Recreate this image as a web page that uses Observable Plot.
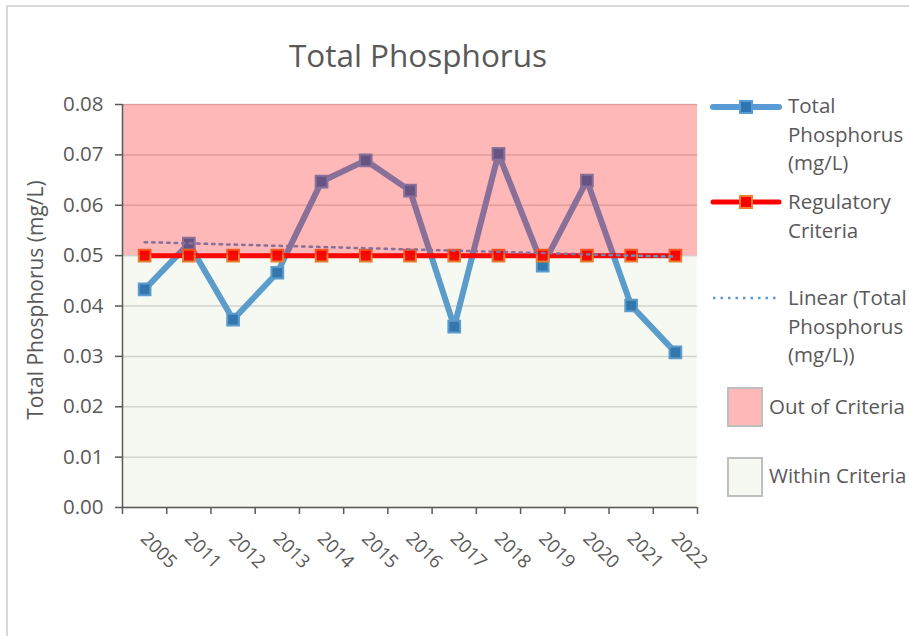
<!DOCTYPE html>
<html>
<head>
<meta charset="utf-8">
<script src="https://cdn.jsdelivr.net/npm/d3@7"></script>
<script src="https://cdn.jsdelivr.net/npm/@observablehq/plot@0.6"></script>
<style>
  html, body { margin: 0; padding: 0; background: #fff; }
  body { width: 909px; height: 636px; overflow: hidden; position: relative; font-family: "Open Sans", "Noto Sans", sans-serif; color: #595959; }
  #border { position: absolute; left: 6px; top: 5px; width: 940px; height: 660px; border: 2px solid #d9d9d9; box-sizing: border-box; }
  #chart { position: absolute; left: 0; top: 0; }
  #title { position: absolute; left: 0; width: 836px; top: 33px; text-align: center; font-size: 31.5px; font-weight: 400; color: #595959; }
  .leg { position: absolute; font-size: 20.5px; line-height: 28.5px; color: #595959; white-space: nowrap; }
  .legsym { position: absolute; }
</style>
</head>
<body>
<div id="border"></div>
<div id="chart"></div>
<div id="title">Total Phosphorus</div>
<div id="legend"></div>
<script>
// ---- data ----
const years = ["2005","2011","2012","2013","2014","2015","2016","2017","2018","2019","2020","2021","2022"];
const phosphorus = [0.0433, 0.0524, 0.0373, 0.0466, 0.0647, 0.0689, 0.0629, 0.0359, 0.0702, 0.0480, 0.0649, 0.0401, 0.0308];
const criteria = [0.05, 0.05, 0.05, 0.05, 0.05, 0.05, 0.05, 0.05, 0.05, 0.05, 0.05, 0.05, 0.05];
const yTicks = [0, 0.01, 0.02, 0.03, 0.04, 0.05, 0.06, 0.07, 0.08];
const zoneNames = ["Out of Criteria", "Within Criteria"];
const zoneLow = [0.05, 0];
const zoneHigh = [0.08, 0.05];
const seriesNames = ["Total Phosphorus (mg/L)", "Regulatory Criteria", "Linear (Total Phosphorus (mg/L))"];
const yTitle = "Total Phosphorus (mg/L)";

// ---- build tables ----
const rows = years.map((year, i) => ({i, year, tp: phosphorus[i], crit: criteria[i]}));
const zones = zoneNames.map((name, k) => ({name, y1: zoneLow[k], y2: zoneHigh[k]}));
const xDomain = [-0.5, years.length - 0.5];
const boundaries = d3.range(0, years.length + 1).map(k => k - 0.5);

const BLUE = "#5B9BD5", BLUE_DARK = "#2E75B6", RED = "#FF0000", ORANGE = "#ED7D31";
const zoneFill = {"Out of Criteria": "#FF0000", "Within Criteria": "#70AD47"};
const zoneOpacity = {"Out of Criteria": 0.28, "Within Criteria": 0.07};
const TEXT = "#595959";

const chart = Plot.plot({
  width: 909,
  height: 636,
  marginTop: 104,
  marginLeft: 122,
  marginRight: 212,
  marginBottom: 129,
  style: {fontFamily: "'Open Sans', 'Noto Sans', sans-serif", color: TEXT, background: "transparent"},
  x: {domain: xDomain, axis: null},
  y: {domain: [0, 0.08], axis: null},
  marks: [
    Plot.gridY(yTicks, {stroke: "#d9d9d9", strokeOpacity: 1, strokeWidth: 1.5}),
    Plot.lineY(rows, {x: "i", y: "tp", stroke: BLUE, strokeWidth: 6, strokeLinejoin: "round"}),
    Plot.dot(rows, {x: "i", y: "tp", symbol: "square", r: 6.6, fill: BLUE_DARK, stroke: BLUE, strokeWidth: 2}),
    Plot.lineY(rows, {x: "i", y: "crit", stroke: RED, strokeWidth: 5}),
    Plot.dot(rows, {x: "i", y: "crit", symbol: "square", r: 6.6, fill: RED, stroke: ORANGE, strokeWidth: 2}),
    Plot.linearRegressionY(rows, {x: "i", y: "tp", stroke: BLUE, strokeWidth: 2.5, strokeDasharray: "2.5,5", ci: 0}),
    Plot.rect(zones, {y1: "y1", y2: "y2", fill: d => zoneFill[d.name], fillOpacity: d => zoneOpacity[d.name]}),
    Plot.ruleX([xDomain[0]], {stroke: TEXT, strokeWidth: 1.5}),
    Plot.ruleY([0], {stroke: TEXT, strokeWidth: 1.5}),
    Plot.axisY(yTicks, {tickFormat: d3.format(".2f"), tickSize: 7, tickPadding: 12, fontSize: 20.5, stroke: TEXT, strokeWidth: 1.5, fill: TEXT, label: null, style: "letter-spacing:1.4px"}),
    Plot.axisX(boundaries, {tickFormat: () => "", tickSize: 7, stroke: TEXT, strokeWidth: 1.5, label: null}),
    Plot.text(rows, {x: "i", text: "year", frameAnchor: "bottom", rotate: 45, textAnchor: "start", dx: -5, dy: 32, fontSize: 18.5, fill: TEXT}),
    Plot.text([yTitle], {frameAnchor: "left", rotate: -90, textAnchor: "middle", dx: -86, dy: -6, fontSize: 21, fill: TEXT, style: "letter-spacing:1.5px"})
  ]
});
document.getElementById("chart").appendChild(chart);

// ---- legend (HTML) ----
const legend = document.getElementById("legend");
function addLegendLine(y, kind) {
  const ns = "http://www.w3.org/2000/svg";
  const svg = document.createElementNS(ns, "svg");
  svg.setAttribute("width", 80); svg.setAttribute("height", 20);
  svg.setAttribute("class", "legsym");
  svg.style.left = "706px"; svg.style.top = (y - 10) + "px";
  const line = document.createElementNS(ns, "line");
  line.setAttribute("x1", 7); line.setAttribute("x2", 73); line.setAttribute("y1", 10); line.setAttribute("y2", 10);
  if (kind === "tp") { line.setAttribute("stroke", BLUE); line.setAttribute("stroke-width", 6); line.setAttribute("stroke-linecap", "round"); }
  if (kind === "crit") { line.setAttribute("stroke", RED); line.setAttribute("stroke-width", 5); line.setAttribute("stroke-linecap", "round"); }
  if (kind === "trend") { line.setAttribute("stroke", BLUE); line.setAttribute("stroke-width", 2.5); line.setAttribute("stroke-dasharray", "2.5,5"); line.setAttribute("x2", 70); }
  svg.appendChild(line);
  if (kind !== "trend") {
    const r = document.createElementNS(ns, "rect");
    r.setAttribute("x", 34); r.setAttribute("y", 4); r.setAttribute("width", 12); r.setAttribute("height", 12);
    r.setAttribute("fill", kind === "tp" ? BLUE_DARK : RED);
    r.setAttribute("stroke", kind === "tp" ? BLUE : ORANGE);
    r.setAttribute("stroke-width", 2);
    svg.appendChild(r);
  }
  legend.appendChild(svg);
}
function addLegendText(x, y, html) {
  const d = document.createElement("div");
  d.className = "leg";
  d.style.left = x + "px"; d.style.top = y + "px";
  d.innerHTML = html;
  legend.appendChild(d);
}
function addSwatch(y, name) {
  const d = document.createElement("div");
  d.style.position = "absolute";
  d.style.left = "727px"; d.style.top = y + "px";
  d.style.width = "36px"; d.style.height = "40px";
  d.style.boxSizing = "border-box";
  d.style.border = "2px solid #bfbfbf";
  const c = d3.color(zoneFill[name]);
  const a = zoneOpacity[name];
  d.style.background = d3.rgb(255 - (255 - c.r) * a, 255 - (255 - c.g) * a, 255 - (255 - c.b) * a).formatHex();
  legend.appendChild(d);
}
addLegendLine(107, "tp");
addLegendText(788, 91, "Total<br>Phosphorus<br>(mg/L)");
addLegendLine(202, "crit");
addLegendText(788, 187, "Regulatory<br>Criteria");
addLegendLine(298, "trend");
addLegendText(788, 283, "Linear (Total<br>Phosphorus<br>(mg/L))");
addSwatch(387, zoneNames[0]);
addLegendText(769, 392, zoneNames[0]);
addSwatch(457, zoneNames[1]);
addLegendText(769, 461, zoneNames[1]);
</script>
</body>
</html>
